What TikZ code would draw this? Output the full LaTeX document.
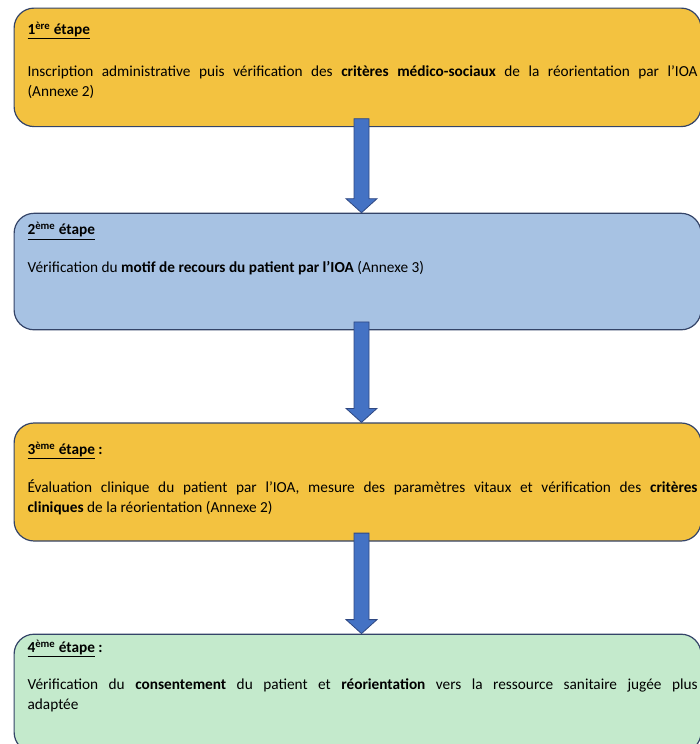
\documentclass[tikz,border=0pt]{standalone}
\usepackage{fontspec}
\setmainfont{Carlito}
\usetikzlibrary{calc,positioning}
\definecolor{stepgold}{RGB}{243,194,64}
\definecolor{stepblue}{RGB}{167,194,227}
\definecolor{stepgreen}{RGB}{196,234,204}
\definecolor{stepline}{RGB}{52,68,104}
\definecolor{arrowblue}{RGB}{68,114,196}
\definecolor{arrowline}{RGB}{47,72,130}
\setlength{\parindent}{0pt}
\hyphenpenalty=10000
\exhyphenpenalty=10000
% box text: height, top gap, contents
\newcommand{\steptext}[3]{\parbox[c][#1][t]{687pt}{\leftskip=13.5pt\rightskip=3.5pt\vspace*{#2}#3}}

\begin{document}
\begin{tikzpicture}[
  x=1pt,y=1pt,
  stepbox/.style={draw=stepline,line width=1.2pt,rounded corners=20pt,
    inner sep=0pt,anchor=north west,font=\fontsize{15.3}{19.8}\selectfont},
  blockarrow/.style={fill=arrowblue,draw=arrowline,line width=.8pt},
  ]
  \useasboundingbox (0,0) rectangle (700,-744);

  \node[stepbox,fill=stepgold] (s1) at (13.5,-7.5) {\steptext{118.5pt}{14pt}{%
    \underline{\textbf{1\textsuperscript{ère} étape}}\par\vspace{22pt}
    Inscription administrative puis vérification des \textbf{critères médico-sociaux} de la réorientation par l’IOA\linebreak (Annexe 2)}};
  \node[stepbox,fill=stepblue,below=85.5pt of s1] (s2) {\steptext{116.5pt}{9pt}{%
    \underline{\textbf{2\textsuperscript{ème} étape}}\par\vspace{18pt}
    Vérification du \textbf{motif de recours du patient par l’IOA} (Annexe 3)}};
  \node[stepbox,fill=stepgold,below=92pt of s2] (s3) {\steptext{118pt}{19pt}{%
    \underline{\textbf{3\textsuperscript{ème} étape}}\textbf{ :}\par\vspace{18pt}
    Évaluation clinique du patient par l’IOA, mesure des paramètres vitaux et vérification des \textbf{critères\linebreak cliniques} de la réorientation (Annexe 2)}};
  \node[stepbox,fill=stepgreen,below=92pt of s3] (s4) {\steptext{118pt}{6pt}{%
    \underline{\textbf{4\textsuperscript{ème} étape}}\textbf{ :}\par\vspace{17pt}
    Vérification du \textbf{consentement} du patient et \textbf{réorientation} vers la ressource sanitaire jugée plus\linebreak adaptée}};

  % block arrows between the steps
  \foreach \a/\b in {s1/s2,s2/s3,s3/s4}
    \draw[blockarrow] ($(\a.south west)+(340.5,8.5)$) -- ($(\a.south west)+(355.5,8.5)$)
      -- ($(\b.north west)+(355.5,14)$) -- ($(\b.north west)+(363.5,14)$)
      -- ($(\b.north west)+(348,0)$) -- ($(\b.north west)+(332.5,14)$)
      -- ($(\b.north west)+(340.5,14)$) -- cycle;

\end{tikzpicture}
\end{document}
